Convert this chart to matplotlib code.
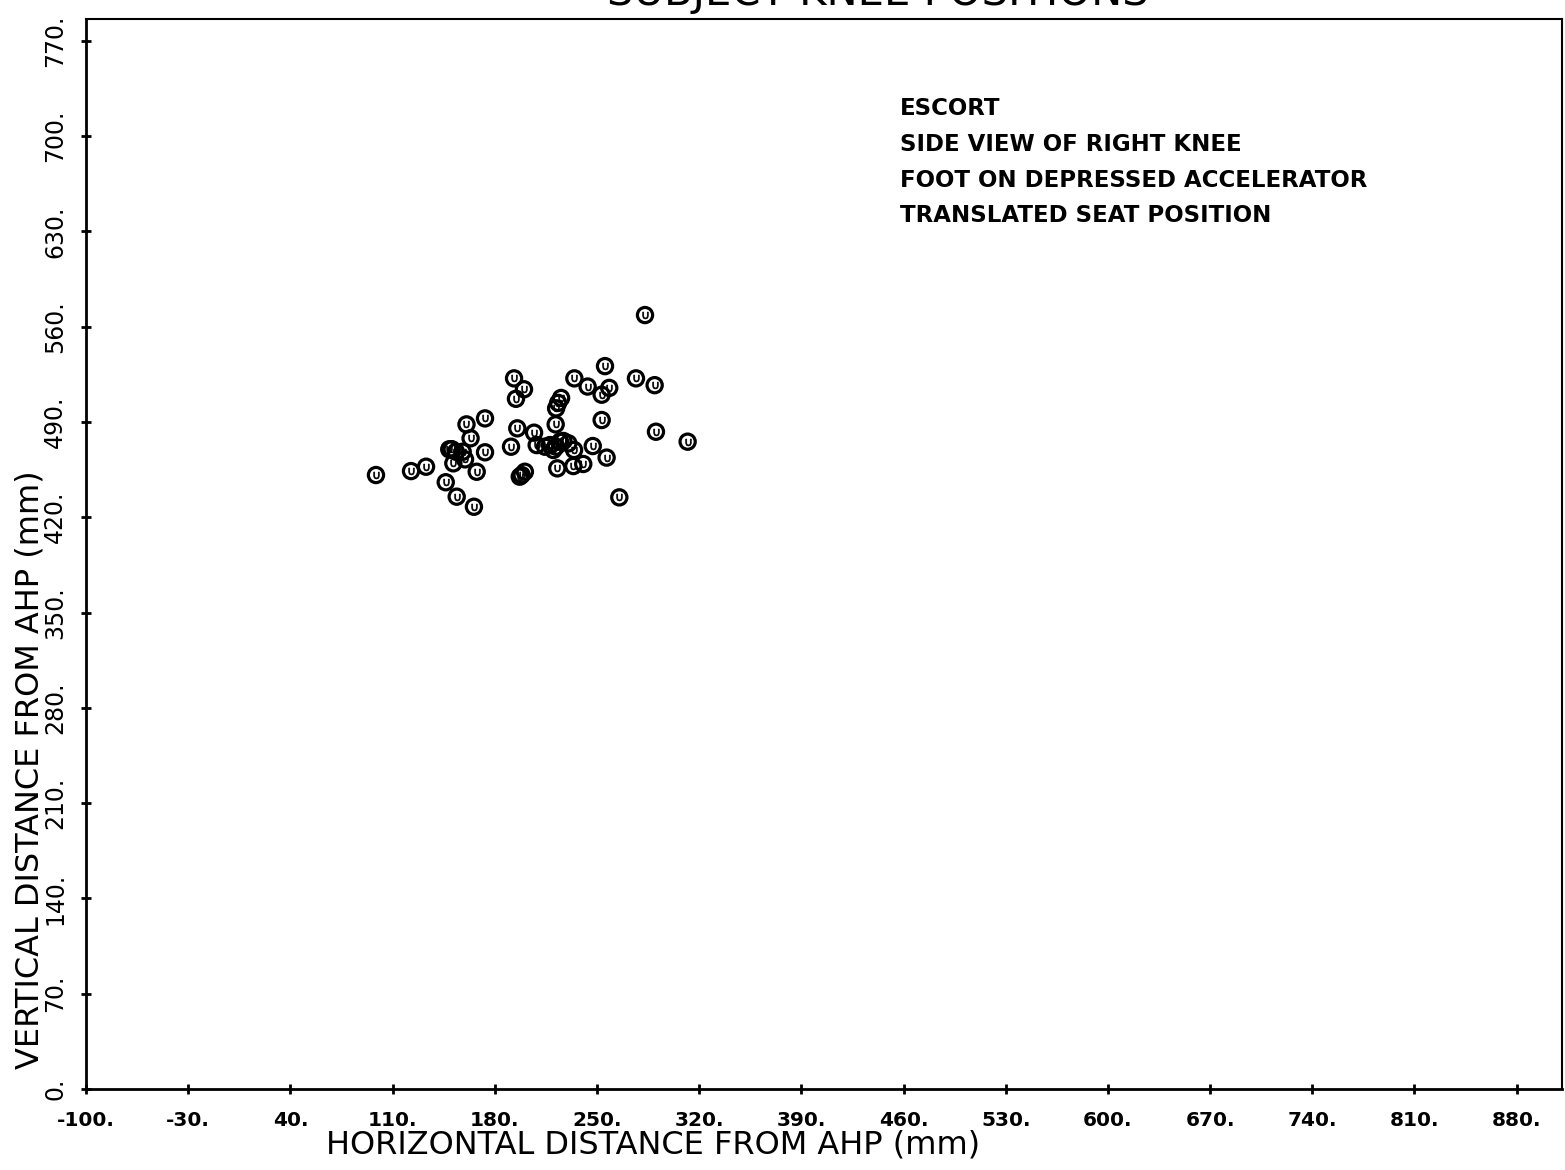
import numpy as np
import matplotlib.pyplot as plt

# knee positions (mm from AHP)
knee_x = [282.9, 255.5, 193.2, 200.0, 194.5, 234.5, 243.6, 258.4, 253.2, 276.7,
          289.5, 225.4, 223.4, 222.0, 253.2, 221.7, 195.4, 206.9, 290.4, 312.1,
          191.1, 208.7, 214.4, 220.1, 224.7, 230.4, 234.3, 247.1, 222.0, 217.8,
          256.6, 240.6, 233.8, 222.8, 265.3, 198.4, 200.6, 197.1, 173.3, 160.6,
          163.4, 148.8, 153.4, 158.0, 159.6, 151.6, 173.3, 167.6, 132.9, 122.6,
          98.6, 146.4, 153.9, 165.7, 150.5, 227.0]
knee_y = [568.5, 531.0, 522.0, 514.0, 507.0, 522.0, 516.0, 515.0, 510.0, 522.0,
          517.0, 507.6, 504.0, 500.0, 491.4, 488.2, 485.3, 482.1, 482.8, 475.5,
          471.8, 473.0, 471.8, 469.4, 475.5, 474.3, 469.4, 472.3, 471.8, 473.0,
          463.8, 459.1, 457.6, 455.9, 434.6, 451.0, 453.4, 449.8, 492.6, 488.2,
          478.0, 469.9, 468.1, 468.1, 462.5, 459.6, 467.7, 453.4, 457.1, 453.9,
          451.0, 445.7, 435.1, 427.7, 470.0, 476.0]

x_ticks = [-100, -30, 40, 110, 180, 250, 320, 390, 460, 530, 600, 670, 740, 810, 880]
y_ticks = [0, 70, 140, 210, 280, 350, 420, 490, 560, 630, 700, 770]

notes = ["ESCORT", "SIDE VIEW OF RIGHT KNEE",
         "FOOT ON DEPRESSED ACCELERATOR", "TRANSLATED SEAT POSITION"]

plt.rcParams['font.family'] = ['DejaVu Sans']

fig = plt.figure(figsize=(15.65, 11.7), dpi=100)
ax = fig.add_axes([0.055, 0.0692, 0.943, 0.9146])

# plotter-style symbol: open circle with a small cup inside
ax.scatter(knee_x, knee_y, s=120, facecolors='none', edgecolors='black', linewidths=2.3, zorder=3)
ax.scatter(knee_x, knee_y, s=24, marker=r'$\cup$', color='black', linewidths=0.5, zorder=4)

ax.set_xlim(-100, 911)
ax.set_ylim(0, 786)
ax.set_xticks(x_ticks)
ax.set_yticks(y_ticks)
ax.set_xticklabels([f"{v}." for v in x_ticks], fontsize=14.5, fontweight='bold')
ax.set_yticklabels([f"{v}." for v in y_ticks], fontsize=17, rotation=90, va='center')
ax.tick_params(direction='inout', length=7, width=2)
ax.tick_params(axis='x', pad=12)
ax.tick_params(axis='y', pad=10)

for side in ['left', 'bottom']:
    ax.spines[side].set_linewidth(2)
for side in ['top', 'right']:
    ax.spines[side].set_linewidth(1.5)

fig.text(0.417, 0.021, "HORIZONTAL DISTANCE FROM AHP (mm)", fontsize=23, ha='center', va='center')
fig.text(0.019, 0.342, "VERTICAL DISTANCE FROM AHP (mm)", fontsize=23, ha='center', va='center', rotation=90)
# title sits mostly above the sheet, as in the scanned original
fig.text(0.561, 1.0 - 5 / 1170, "SUBJECT KNEE POSITIONS", fontsize=30, ha='center', va='baseline')

for i, line in enumerate(notes):
    fig.text(0.575, 0.907 - i * 0.0305, line, fontsize=16.5, fontweight='bold', ha='left', va='center')

fig.savefig("out.png", dpi=100)
